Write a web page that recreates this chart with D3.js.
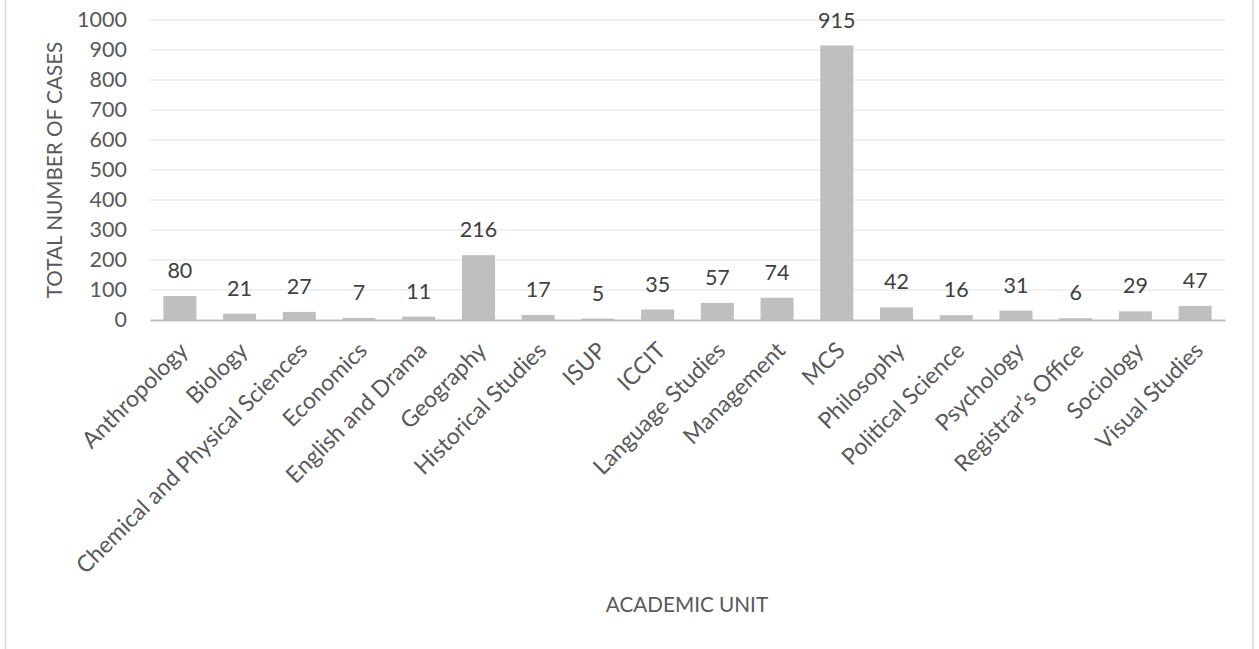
<!DOCTYPE html>
<html><head><meta charset="utf-8">
<script src="https://cdn.jsdelivr.net/npm/d3@7"></script>
<style>body{margin:0;background:#fff;} svg{display:block;font-family:Lato, "Open Sans", sans-serif;}</style>
</head><body>
<svg id="chart" width="1259" height="649"></svg>
<script>
(function(){
const categories = ["Anthropology","Biology","Chemical and Physical Sciences","Economics","English and Drama","Geography","Historical Studies","ISUP","ICCIT","Language Studies","Management","MCS","Philosophy","Political Science","Psychology","Registrar\u2019s Office","Sociology","Visual Studies"];
const values = [80,21,27,7,11,216,17,5,35,57,74,915,42,16,31,6,29,47];
const yTicks = [0,100,200,300,400,500,600,700,800,900,1000];
const yTitle = "TOTAL NUMBER OF CASES";
const xTitle = "ACADEMIC UNIT";

const svg = d3.select("#chart");
const mLeft = 150, mRight = 1225, mTop = 20, mBottom = 320;

svg.append("rect").attr("x",5.5).attr("y",-5).attr("width",1247.5).attr("height",660)
  .attr("fill","none").attr("stroke","#d9d9d9").attr("stroke-width",1.5);

const x = d3.scaleBand().domain(categories).range([mLeft,mRight]).paddingInner(0.447).paddingOuter(0.2235);
const y = d3.scaleLinear().domain([0,1000]).range([mBottom,mTop]);

svg.append("g").selectAll("line").data(yTicks.filter(d=>d>0)).join("line")
  .attr("x1",mLeft).attr("x2",mRight).attr("y1",d=>y(d)).attr("y2",d=>y(d))
  .attr("stroke","#ebebeb").attr("stroke-width",1.3);

const yAxis = d3.axisLeft(y).tickValues(yTicks).tickSize(0).tickPadding(0).tickFormat(d3.format("d"));
const gy = svg.append("g").attr("transform",`translate(${mLeft-23},0)`).call(yAxis);
gy.select(".domain").remove();
gy.selectAll("text").attr("fill","#595959").style("font-size","21.5px").style("font-family","Lato");

svg.append("g").selectAll("rect").data(values).join("rect")
  .attr("x",(d,i)=>x(categories[i])).attr("width",x.bandwidth())
  .attr("y",d=>y(d)).attr("height",d=>y(0)-y(d)).attr("fill","#bfbfbf");

const xAxis = d3.axisBottom(x).tickSize(0).tickFormat("");
const gx = svg.append("g").attr("transform",`translate(0,${mBottom})`).call(xAxis);
gx.select(".domain").attr("stroke","#bfbfbf").attr("stroke-width",2);

svg.append("g").selectAll("text").data(categories).join("text")
  .attr("transform",d=>`translate(${x(d)+x.bandwidth()/2+9.5},${mBottom+32}) rotate(-45)`)
  .attr("text-anchor","end")
  .attr("fill","#595959").style("font-size","23px")
  .text(d=>d);

svg.append("g").selectAll("text").data(values).join("text")
  .attr("x",(d,i)=>x(categories[i])+x.bandwidth()/2).attr("y",d=>y(d)-18)
  .attr("text-anchor","middle").attr("fill","#404040").style("font-size","21.5px")
  .text(d=>d);

svg.append("text").attr("transform","translate(62,170) rotate(-90)").attr("text-anchor","middle")
  .attr("fill","#595959").style("font-size","20.7px").text(yTitle);
svg.append("text").attr("x",687).attr("y",612).attr("text-anchor","middle")
  .attr("fill","#595959").style("font-size","20.7px").text(xTitle);
})();
</script>
</body></html>
